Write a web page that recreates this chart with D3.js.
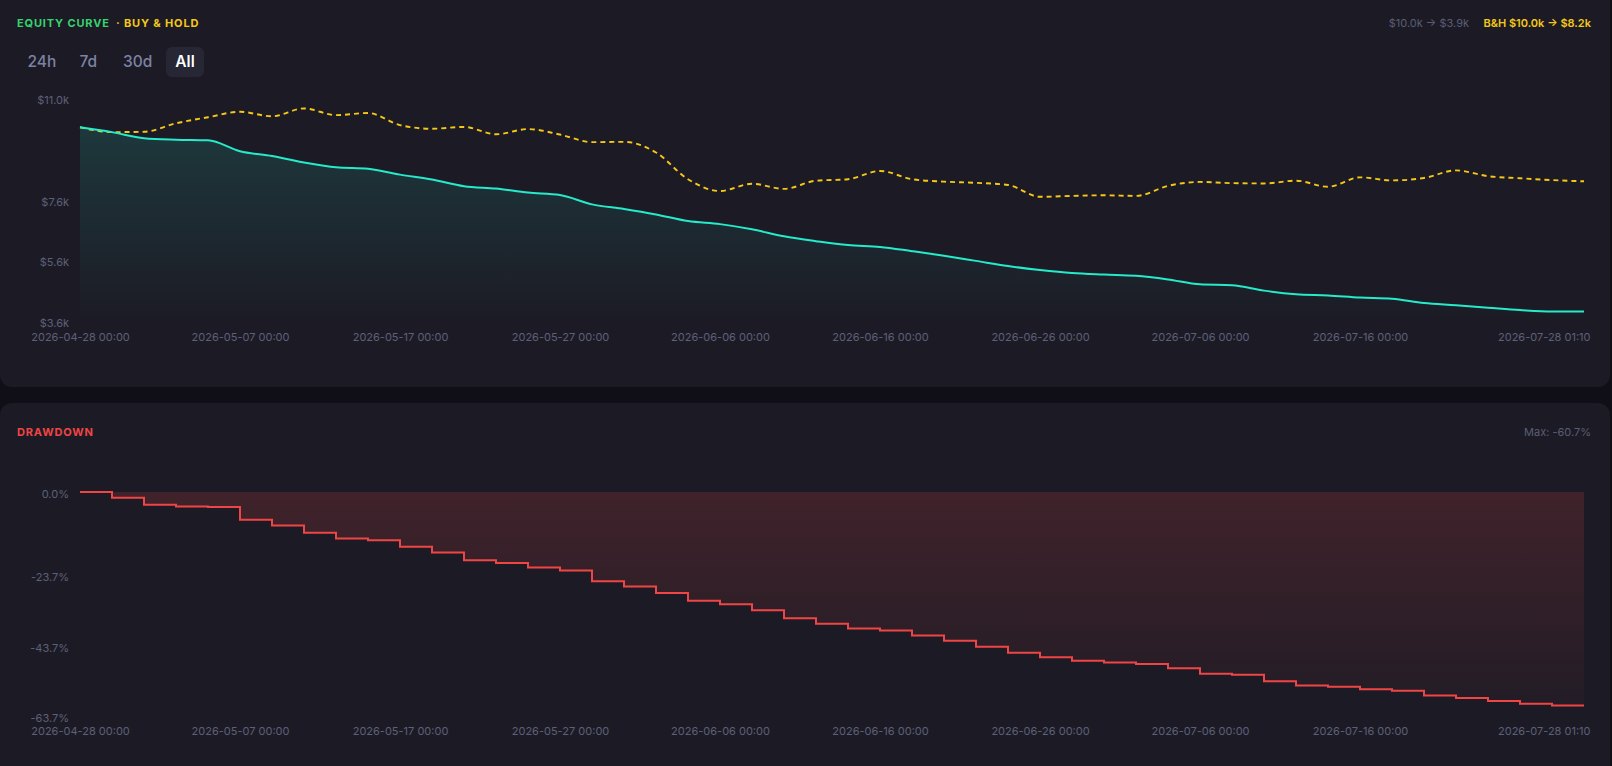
<!DOCTYPE html>
<html>
<head>
<meta charset="utf-8">
<script src="https://cdn.jsdelivr.net/npm/d3@7/dist/d3.min.js"></script>
<style>
  html, body { margin: 0; padding: 0; background: #100f17; }
  svg { display: block; font-family: Inter, "Noto Sans", sans-serif; }
</style>
</head>
<body>
<svg id="chart" width="1612" height="766"></svg>
<script>
// ---------- DATA ----------
const xLabelIndex = [0, 5, 10, 15, 20, 25, 30, 35, 40, 47];
const xLabels = ["2026-04-28 00:00", "2026-05-07 00:00", "2026-05-17 00:00", "2026-05-27 00:00",
  "2026-06-06 00:00", "2026-06-16 00:00", "2026-06-26 00:00", "2026-07-06 00:00",
  "2026-07-16 00:00", "2026-07-28 01:10"];

const equity = [10000, 9840, 9640, 9590, 9570, 9210, 9050, 8840, 8680, 8630,
  8440, 8280, 8060, 7980, 7850, 7770, 7460, 7310, 7130, 6910,
  6810, 6640, 6410, 6250, 6120, 6060, 5920, 5770, 5600, 5430,
  5300, 5200, 5150, 5110, 4990, 4830, 4800, 4620, 4500, 4460,
  4390, 4350, 4210, 4140, 4060, 3980, 3930, 3930];

const buyHold = [10000, 9840, 9850, 10130, 10330, 10510, 10360, 10620, 10400, 10470,
  10070, 9950, 10010, 9770, 9940, 9760, 9510, 9520, 9170, 8290,
  7900, 8140, 7970, 8240, 8290, 8560, 8290, 8210, 8170, 8100,
  7710, 7740, 7760, 7740, 8070, 8200, 8160, 8150, 8240, 8040,
  8350, 8250, 8330, 8580, 8390, 8320, 8260, 8220];

const drawdown = [0, -1.6, -3.6, -4.1, -4.3, -7.9, -9.5, -11.6, -13.2, -13.7,
  -15.6, -17.2, -19.4, -20.2, -21.5, -22.3, -25.4, -26.9, -28.7, -30.9,
  -31.9, -33.6, -35.9, -37.5, -38.8, -39.4, -40.8, -42.3, -44.0, -45.7,
  -47.0, -48.0, -48.5, -48.9, -50.1, -51.7, -52.0, -53.8, -55.0, -55.4,
  -56.1, -56.5, -57.9, -58.6, -59.4, -60.2, -60.7, -60.7];

const equityDomain = [3620, 10980];
const equityTicks = [3620, 5620, 7620, 10980];
const ddDomain = [-63.7, 0];
const ddTicks = [0, -23.7, -43.7, -63.7];
const ranges = ["24h", "7d", "30d", "All"];

// ---------- STYLE ----------
const C = {
  panel: "#1c1b25", axisText: "#5d6079", green: "#35d46c", yellow: "#f5c817",
  teal: "#25ebcb", red: "#ef4545", btnText: "#7d82a3"
};

const svg = d3.select("#chart");
const defs = svg.append("defs");

// panels
svg.append("rect").attr("x", 0).attr("y", -20).attr("width", 1610).attr("height", 407)
  .attr("rx", 12).attr("fill", C.panel);
svg.append("rect").attr("x", 0).attr("y", 403).attr("width", 1610).attr("height", 420)
  .attr("rx", 12).attr("fill", C.panel);

// gradients
const gEq = defs.append("linearGradient").attr("id", "gEq").attr("x1", 0).attr("y1", 0).attr("x2", 0).attr("y2", 1);
gEq.append("stop").attr("offset", "0%").attr("stop-color", C.teal).attr("stop-opacity", 0.14);
gEq.append("stop").attr("offset", "100%").attr("stop-color", C.teal).attr("stop-opacity", 0.0);
const gDd = defs.append("linearGradient").attr("id", "gDd").attr("x1", 0).attr("y1", 0).attr("x2", 0).attr("y2", 1);
gDd.append("stop").attr("offset", "0%").attr("stop-color", C.red).attr("stop-opacity", 0.17);
gDd.append("stop").attr("offset", "100%").attr("stop-color", C.red).attr("stop-opacity", 0.03);

// ---------- HEADERS ----------
svg.append("text").attr("x", 17).attr("y", 23).attr("dy", "0.35em")
  .attr("font-size", 11).attr("font-weight", 700).attr("letter-spacing", 0.85)
  .attr("fill", C.green).text("EQUITY CURVE");
svg.append("text").attr("x", 116).attr("y", 23).attr("dy", "0.35em")
  .attr("font-size", 11).attr("font-weight", 700).attr("letter-spacing", 0.85)
  .attr("fill", C.yellow).text("· BUY & HOLD");

svg.append("text").attr("x", 1591).attr("y", 23).attr("dy", "0.35em").attr("text-anchor", "end")
  .attr("font-size", 11).attr("font-weight", 600).attr("fill", C.yellow)
  .text("B&H $10.0k → $8.2k");
svg.append("text").attr("x", 1469).attr("y", 23).attr("dy", "0.35em").attr("text-anchor", "end")
  .attr("font-size", 11).attr("fill", "#5a5d74")
  .text("$10.0k → $3.9k");

svg.append("text").attr("x", 17).attr("y", 432).attr("dy", "0.35em")
  .attr("font-size", 11).attr("font-weight", 700).attr("letter-spacing", 0.85)
  .attr("fill", C.red).text("DRAWDOWN");
svg.append("text").attr("x", 1591).attr("y", 432).attr("dy", "0.35em").attr("text-anchor", "end")
  .attr("font-size", 11).attr("fill", "#5a5d74").text("Max: -60.7%");

// range buttons
const btnX = [27.5, 79.5, 123, 185];
svg.append("rect").attr("x", 166).attr("y", 47).attr("width", 38).attr("height", 30)
  .attr("rx", 6).attr("fill", "#262634");
ranges.forEach((r, i) => {
  svg.append("text").attr("x", btnX[i]).attr("y", 62).attr("dy", "0.35em")
    .attr("text-anchor", i === 3 ? "middle" : "start")
    .attr("font-size", 15.5).attr("font-weight", i === 3 ? 600 : 500)
    .attr("fill", i === 3 ? "#ffffff" : C.btnText).text(r);
});

// ---------- SCALES ----------
const x = d3.scaleLinear().domain([0, equity.length - 1]).range([80, 1584]);
const yEq = d3.scaleLinear().domain(equityDomain).range([321, 97.5]);
const yDd = d3.scaleLinear().domain(ddDomain).range([716, 492]);

function styleAxis(g) {
  g.select(".domain").remove();
  g.selectAll(".tick line").remove();
  g.selectAll("text").attr("fill", C.axisText).attr("font-size", 11)
    .attr("font-family", "Inter, 'Noto Sans', sans-serif");
}

// ---------- EQUITY CHART ----------
const idx = d3.range(equity.length);
const areaEq = d3.area().x(i => x(i)).y0(yEq(equityDomain[0])).y1(i => yEq(equity[i])).curve(d3.curveMonotoneX);
svg.append("path").datum(idx).attr("d", areaEq).attr("fill", "url(#gEq)");

const lineBH = d3.line().x(i => x(i)).y(i => yEq(buyHold[i])).curve(d3.curveMonotoneX);
svg.append("path").datum(idx).attr("d", lineBH).attr("fill", "none")
  .attr("stroke", C.yellow).attr("stroke-width", 1.9).attr("stroke-dasharray", "5 4");

const lineEq = d3.line().x(i => x(i)).y(i => yEq(equity[i])).curve(d3.curveMonotoneX);
svg.append("path").datum(idx).attr("d", lineEq).attr("fill", "none")
  .attr("stroke", C.teal).attr("stroke-width", 2);

// y axis equity
const yAxEq = svg.append("g").attr("transform", "translate(69,2)")
  .call(d3.axisLeft(yEq).tickValues(equityTicks).tickSize(0).tickPadding(0)
    .tickFormat(v => "$" + (v / 1000).toFixed(1) + "k"));
styleAxis(yAxEq);

// x axis
function xAxis(yPos) {
  const g = svg.append("g").attr("transform", `translate(0,${yPos})`)
    .call(d3.axisBottom(x).tickValues(xLabelIndex).tickSize(0).tickPadding(0)
      .tickFormat((d, i) => xLabels[i]));
  styleAxis(g);
  g.selectAll("text").attr("dy", "0.35em").attr("y", 0);
  g.selectAll(".tick").filter(d => d === equity.length - 1).select("text")
    .attr("text-anchor", "end").attr("x", 6);
}
xAxis(337);

// ---------- DRAWDOWN CHART ----------
const areaDd = d3.area().x(i => x(i)).y0(yDd(0)).y1(i => yDd(drawdown[i])).curve(d3.curveStepAfter);
svg.append("path").datum(idx).attr("d", areaDd).attr("fill", "url(#gDd)");
const lineDd = d3.line().x(i => x(i)).y(i => yDd(drawdown[i])).curve(d3.curveStepAfter);
svg.append("path").datum(idx).attr("d", lineDd).attr("fill", "none")
  .attr("stroke", C.red).attr("stroke-width", 2);

const yAxDd = svg.append("g").attr("transform", "translate(69,2)")
  .call(d3.axisLeft(yDd).tickValues(ddTicks).tickSize(0).tickPadding(0)
    .tickFormat(v => v.toFixed(1) + "%"));
styleAxis(yAxDd);

xAxis(731);
</script>
</body>
</html>
